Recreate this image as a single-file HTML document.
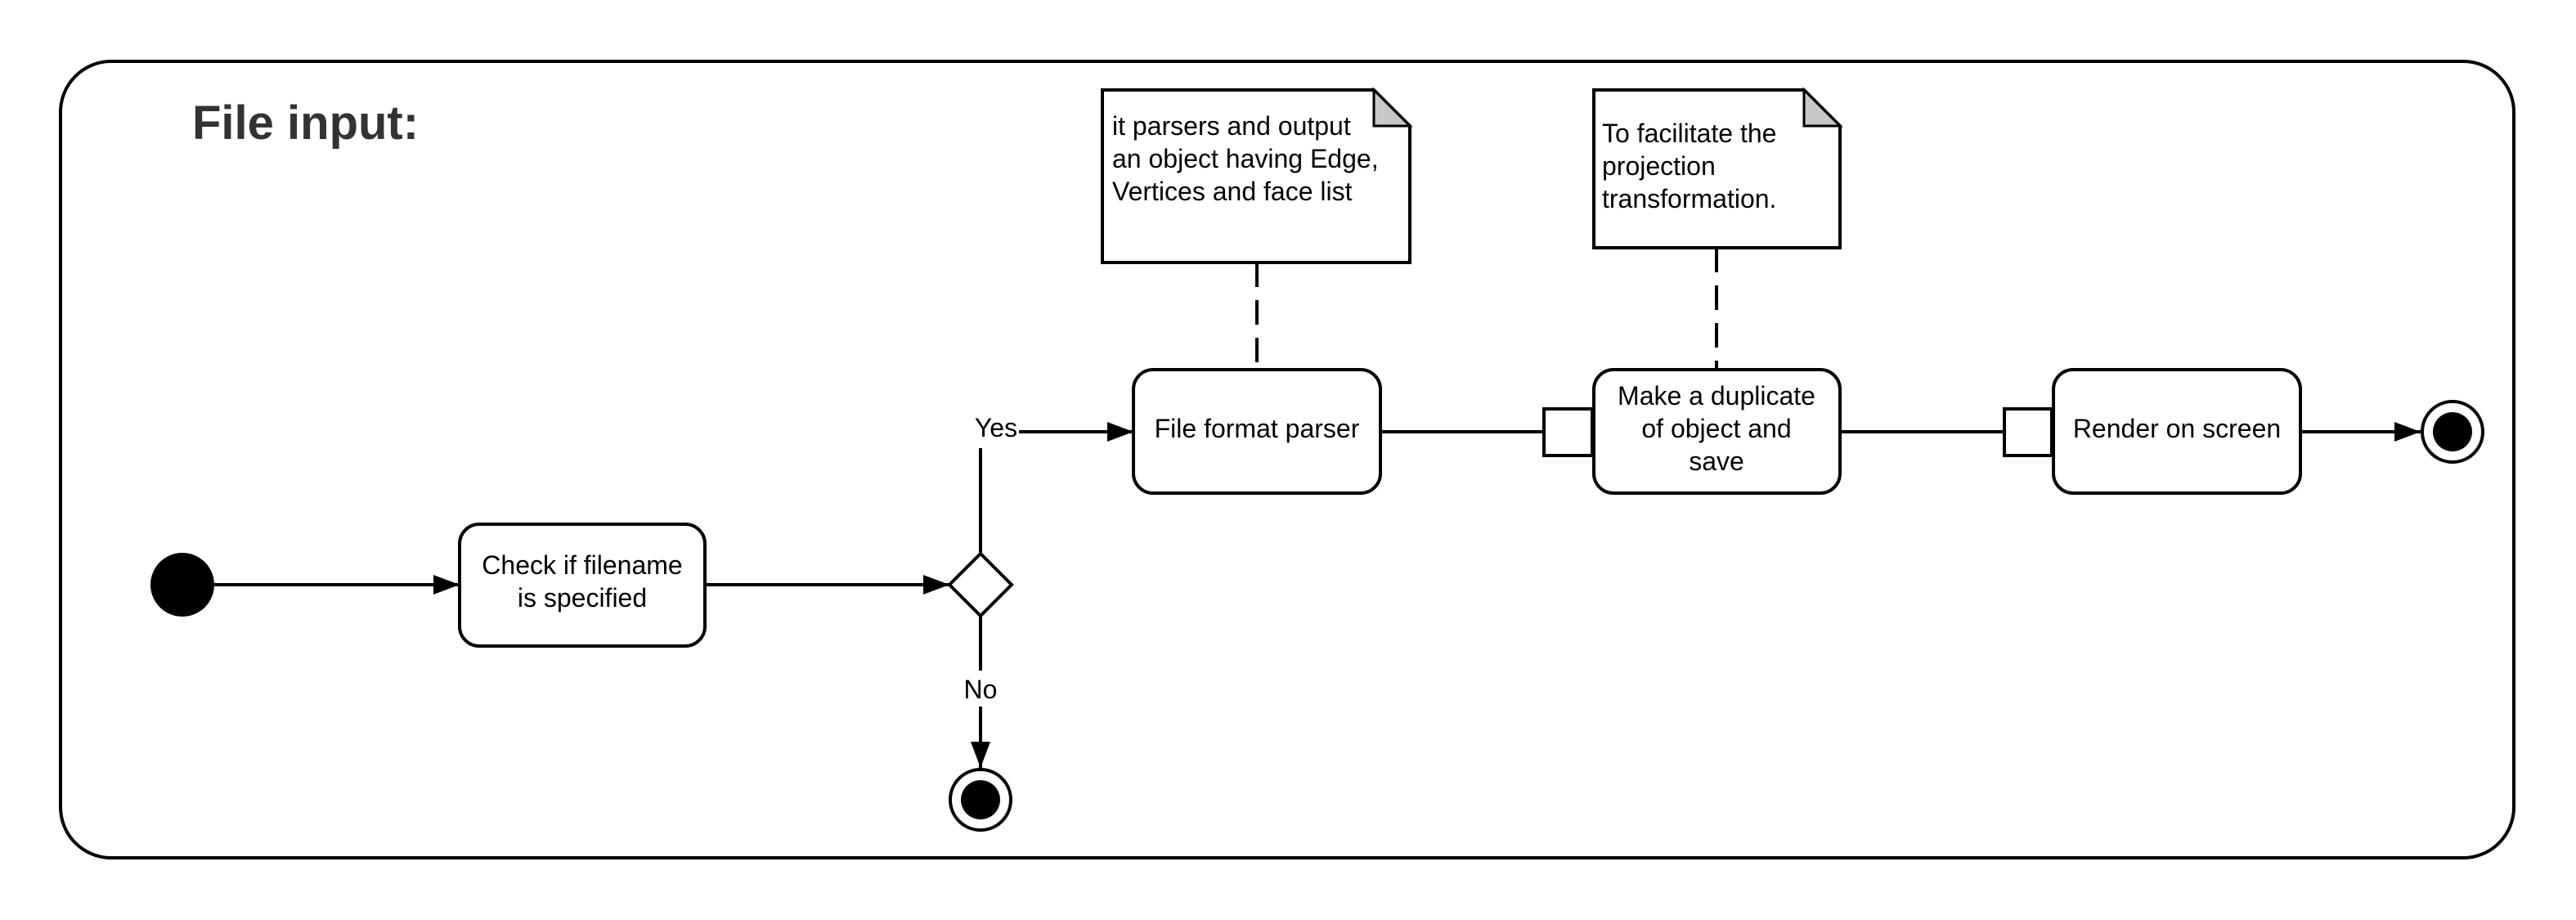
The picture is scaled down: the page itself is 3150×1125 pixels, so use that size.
<!DOCTYPE html>
<html><head><meta charset="utf-8"><style>
html,body{margin:0;padding:0;background:#fff;}
svg{display:block;}
text{font-family:"Liberation Sans",Arial,sans-serif;fill:#000;}
</style></head><body>
<svg width="3150" height="1125" viewBox="0 0 3150 1125" xmlns="http://www.w3.org/2000/svg">
<defs>
<marker id="ah" markerWidth="34" markerHeight="26" refX="32" refY="12" orient="auto" markerUnits="userSpaceOnUse">
<path d="M0,0 L32,12 L0,24 Z" fill="#000"/>
</marker>
</defs>
<g fill="none" stroke="#000" stroke-width="4">
<rect x="74" y="75" width="3000" height="974" rx="62" ry="62"/>
</g>
<text x="235" y="170" font-size="58" font-weight="bold" style="fill:#333">File input:</text>

<!-- start -->
<circle cx="223" cy="715" r="39" fill="#000"/>
<g stroke="#000" stroke-width="4" fill="none">
<line x1="262" y1="715" x2="562" y2="715" marker-end="url(#ah)"/>
<rect x="562" y="641" width="300" height="149" rx="24" fill="#fff"/>
<line x1="862" y1="715" x2="1161" y2="715" marker-end="url(#ah)"/>
<polygon points="1199,677 1237,715 1199,753 1161,715" fill="#fff"/>
<polyline points="1199,677 1199,548"/>
<line x1="1246" y1="528" x2="1386" y2="528" marker-end="url(#ah)"/>
<line x1="1199" y1="753" x2="1199" y2="820"/>
<line x1="1199" y1="864" x2="1199" y2="939" marker-end="url(#ah)"/>
<circle cx="1199" cy="978" r="37" fill="#fff"/>
<rect x="1386" y="452" width="302" height="151" rx="24" fill="#fff"/>
<line x1="1688" y1="528" x2="1888" y2="528"/>
<rect x="1888" y="500" width="59" height="57" fill="#fff"/>
<rect x="1949" y="452" width="301" height="151" rx="24" fill="#fff"/>
<line x1="2250" y1="528" x2="2451" y2="528"/>
<rect x="2451" y="500" width="58" height="57" fill="#fff"/>
<rect x="2511" y="452" width="302" height="151" rx="24" fill="#fff"/>
<line x1="2813" y1="528" x2="2960" y2="528" marker-end="url(#ah)"/>
<circle cx="2999" cy="528" r="37" fill="#fff"/>
<!-- notes -->
<path d="M1348,110 L1680,110 L1724,154 L1724,321 L1348,321 Z" fill="#fff"/>
<path d="M1680,110 L1680,154 L1724,154 Z" fill="#c8c8c8" stroke-width="3"/>
<path d="M1949,110 L2206,110 L2250,154 L2250,303 L1949,303 Z" fill="#fff"/>
<path d="M2206,110 L2206,154 L2250,154 Z" fill="#c8c8c8" stroke-width="3"/>
<line x1="1537" y1="321" x2="1537" y2="452" stroke-dasharray="30,16"/>
<line x1="2099" y1="303" x2="2099" y2="452" stroke-dasharray="30,16"/>
</g>
<circle cx="1199" cy="978" r="24" fill="#000"/>
<circle cx="2999" cy="528" r="24" fill="#000"/>

<g font-size="32" text-anchor="middle">
<text x="712" y="702">Check if filename</text>
<text x="712" y="742">is specified</text>
<text x="1218" y="534">Yes</text>
<text x="1199" y="854">No</text>
<text x="1537" y="535">File format parser</text>
<text x="2099" y="495">Make a duplicate</text>
<text x="2099" y="535">of object and</text>
<text x="2099" y="575">save</text>
<text x="2662" y="535">Render on screen</text>
</g>
<g font-size="32">
<text x="1360" y="165">it parsers and output</text>
<text x="1360" y="205">an object having Edge,</text>
<text x="1360" y="245">Vertices and face list</text>
<text x="1959" y="174">To facilitate the</text>
<text x="1959" y="214">projection</text>
<text x="1959" y="254">transformation.</text>
</g>
</svg>
</body></html>
